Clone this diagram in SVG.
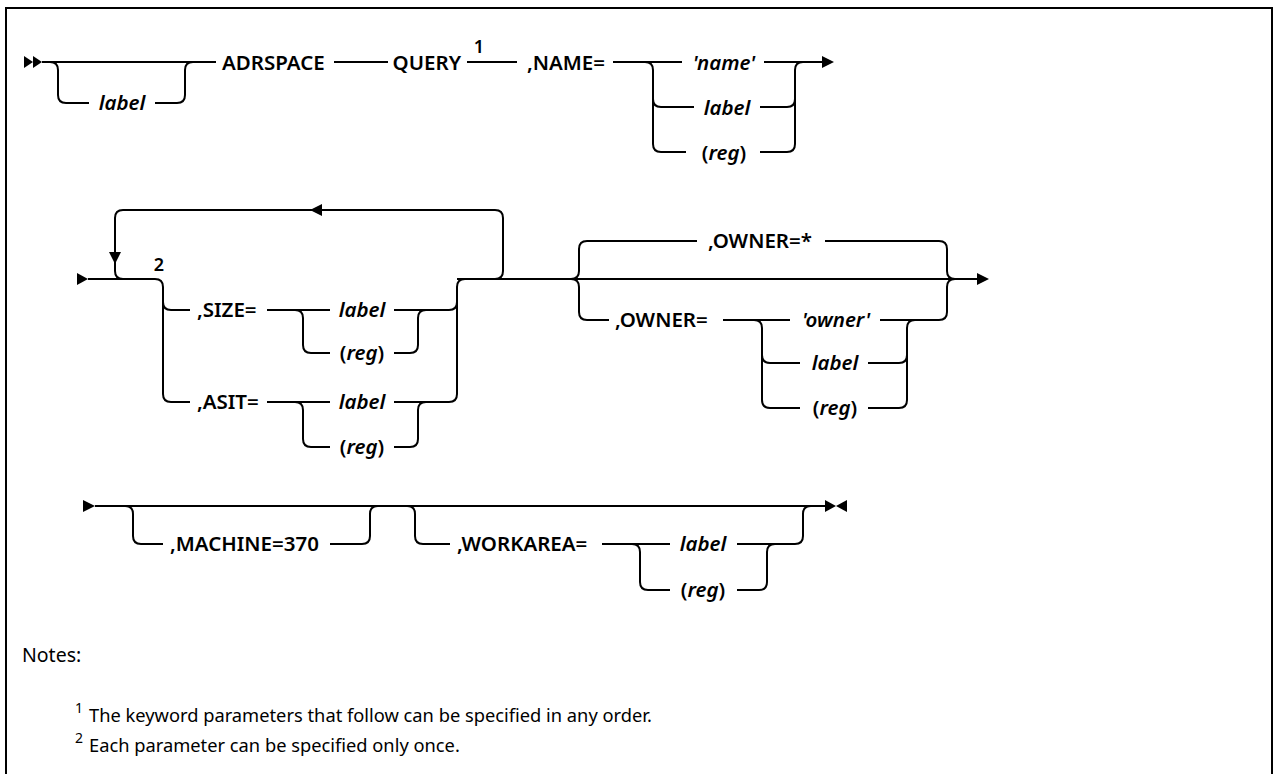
<svg xmlns="http://www.w3.org/2000/svg" width="1273" height="774" viewBox="0 0 1273 774">
<style>
.ln{fill:none;stroke:#000;stroke-width:2}
.ah{fill:#000;stroke:none}
.kw{font-family:"Noto Sans","Liberation Sans",sans-serif;font-size:20.5px;font-weight:600;fill:#000}
.v{font-style:italic}
.m{text-anchor:middle}
.sup{font-family:"Noto Sans","Liberation Sans",sans-serif;font-size:18px;font-weight:600}
.note{font-family:"Noto Sans","Liberation Sans",sans-serif;font-size:18.3px;fill:#000}
.nsup{font-family:"Noto Sans","Liberation Sans",sans-serif;font-size:14px;fill:#000}
</style>
<rect x="6" y="8" width="1266" height="820" fill="#fff" stroke="#000" stroke-width="2"/>
<g id="connectors">
<polygon class="ah" points="24,56 33,62 24,68"/>
<polygon class="ah" points="33,56 42,62 33,68"/>
<path class="ln" d="M42,62 H216"/>
<path class="ln" d="M50,62 q8,0 8,8 V95 q0,8 8,8 H89 M155,103 H177 q8,0 8,-8 V70 q0,-8 8,-8"/>
<path class="ln" d="M334,62 H388"/>
<path class="ln" d="M467,62 H517"/>
<path class="ln" d="M613,62 H682"/>
<path class="ln" d="M645,62 q8,0 8,8 V144 q0,8 8,8 H686 M653,99 q0,8 8,8 H694"/>
<path class="ln" d="M764,62 H824 M760,107 H787 q8,0 8,-8 V70 q0,-8 8,-8 M760,152 H787 q8,0 8,-8 V99"/>
<polygon class="ah" points="822,56 834,62 822,68"/>

<polygon class="ah" points="77,273 88,279 77,285"/>
<path class="ln" d="M88,279 H155 q8,0 8,8 V394 q0,8 8,8 H190 M163,302 q0,8 8,8 H190"/>
<path class="ln" d="M495,279 q8,0 8,-8 V218 q0,-8 -8,-8 H123 q-8,0 -8,8 V271 q0,8 8,8"/>
<polygon class="ah" points="310,210 322,204 322,216"/>
<polygon class="ah" points="109,252 121,252 115,264"/>
<path class="ln" d="M267,310 H330 M295,310 q8,0 8,8 V345 q0,8 8,8 H330 M394,310 H449 q8,0 8,-8 V287 q0,-8 8,-8 M394,353 H410 q8,0 8,-8 V318 q0,-8 8,-8"/>
<path class="ln" d="M267,402 H330 M295,402 q8,0 8,8 V439 q0,8 8,8 H330 M394,402 H449 q8,0 8,-8 V300 M394,447 H410 q8,0 8,-8 V410 q0,-8 8,-8"/>
<path class="ln" d="M457,279 H980"/>
<path class="ln" d="M571,279 q8,0 8,-8 V249 q0,-8 8,-8 H697 M825,241 H939 q8,0 8,8 V271 q0,8 8,8"/>
<path class="ln" d="M571,279 q8,0 8,8 V312 q0,8 8,8 H609 M723,320 H790 M880,320 H939 q8,0 8,-8 V287 q0,-8 8,-8"/>
<path class="ln" d="M754,320 q8,0 8,8 V400 q0,8 8,8 H800 M762,355 q0,8 8,8 H800 M868,363 H899 q8,0 8,-8 V328 q0,-8 8,-8 M868,408 H899 q8,0 8,-8 V355"/>
<polygon class="ah" points="977,273 989,279 977,285"/>

<polygon class="ah" points="83,500 95,506 83,512"/>
<path class="ln" d="M95,506 H825"/>
<path class="ln" d="M125,506 q8,0 8,8 V536 q0,8 8,8 H163 M330,544 H362 q8,0 8,-8 V514 q0,-8 8,-8"/>
<path class="ln" d="M407,506 q8,0 8,8 V536 q0,8 8,8 H450 M602,544 H670 M632,544 q8,0 8,8 V582 q0,8 8,8 H670 M737,544 H795 q8,0 8,-8 V514 q0,-8 8,-8 M737,590 H759 q8,0 8,-8 V552 q0,-8 8,-8"/>
<polygon class="ah" points="825,500 836,506 825,512"/>
<polygon class="ah" points="847,500 836,506 847,512"/>
</g>

<g id="n-label1"><text class="kw v m" x="122" y="110">label</text></g>
<g id="n-adrspace"><text class="kw" x="222" y="69.5">ADRSPACE</text></g>
<g id="n-query"><text class="kw" x="461" y="69.5" text-anchor="end">QUERY</text><text class="sup" x="479" y="53" text-anchor="middle">1</text></g>
<g id="n-name"><text class="kw" x="527" y="69.5">,NAME=</text></g>
<g id="n-name-choices">
<text class="kw v m" x="724" y="69.5">'name'</text>
<text class="kw v m" x="727" y="114.5">label</text>
<text class="kw m" x="724" y="159.5">(<tspan class="v">reg</tspan>)</text>
</g>

<g id="n-rep"><text class="sup" x="159" y="271" text-anchor="middle">2</text></g>
<g id="n-size">
<text class="kw" x="197" y="317">,SIZE=</text>
<text class="kw v m" x="362" y="317">label</text>
<text class="kw m" x="362" y="360">(<tspan class="v">reg</tspan>)</text>
</g>
<g id="n-asit">
<text class="kw" x="197" y="409">,ASIT=</text>
<text class="kw v m" x="362" y="409">label</text>
<text class="kw m" x="362" y="454">(<tspan class="v">reg</tspan>)</text>
</g>
<g id="n-owner-default"><text class="kw" x="708" y="248">,OWNER=*</text></g>
<g id="n-owner">
<text class="kw" x="615" y="327">,OWNER=</text>
<text class="kw v m" x="836" y="327">'owner'</text>
<text class="kw v m" x="835" y="370">label</text>
<text class="kw m" x="835" y="415">(<tspan class="v">reg</tspan>)</text>
</g>

<g id="n-machine"><text class="kw" x="170" y="551">,MACHINE=370</text></g>
<g id="n-workarea">
<text class="kw" x="457" y="551">,WORKAREA=</text>
<text class="kw v m" x="703" y="551">label</text>
<text class="kw m" x="703" y="597">(<tspan class="v">reg</tspan>)</text>
</g>

<g id="notes">
<text class="note" x="22" y="662" style="font-size:19.5px">Notes:</text>
<text class="nsup" x="75" y="713">1</text>
<text class="note" x="89" y="722">The keyword parameters that follow can be specified in any order.</text>
<text class="nsup" x="75" y="743">2</text>
<text class="note" x="89" y="752">Each parameter can be specified only once.</text>
</g>
</svg>
